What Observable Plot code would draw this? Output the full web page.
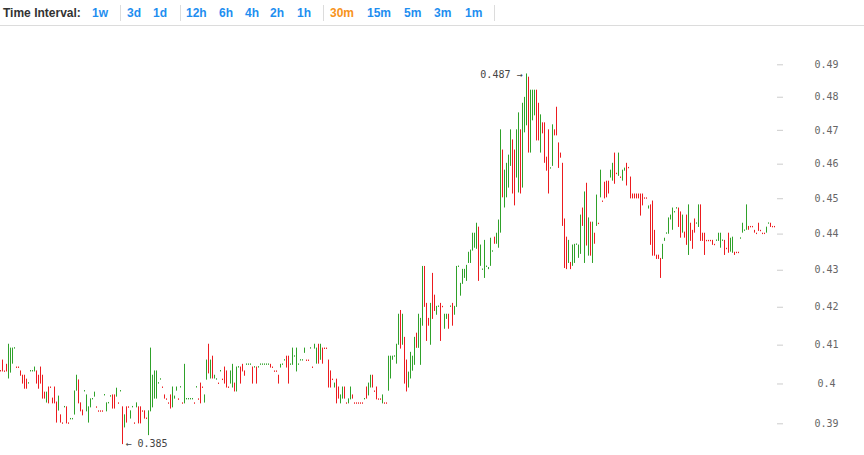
<!DOCTYPE html>
<html>
<head>
<meta charset="utf-8">
<script src="https://cdn.jsdelivr.net/npm/d3@7"></script>
<script src="https://cdn.jsdelivr.net/npm/@observablehq/plot@0.6"></script>
<style>
  html, body { margin: 0; padding: 0; background: #fff; }
  #hdr { position: relative; height: 25px; border-bottom: 1px solid #dcdcdc; font-family: "Liberation Sans", Arial, sans-serif; font-weight: bold; font-size: 12px; }
  #hdr span { position: absolute; top: 6px; white-space: nowrap; }
  #hdr .lbl { color: #333; }
  #hdr .lnk { color: #1e8ef0; }
  #hdr .cur { color: #f7931a; }
  #hdr .sep { position: absolute; top: 5px; width: 1px; height: 16px; background: #dcdcdc; }
  #chart svg { display: block; }
</style>
</head>
<body>
<div id="hdr"></div>
<div id="chart"></div>
<script>
// Header (time interval selector)
const intervalGroups = [["1w"], ["3d", "1d"], ["12h", "6h", "4h", "2h", "1h"], ["30m", "15m", "5m", "3m", "1m"]];
const activeInterval = "30m";

// Price axis ticks
const yTicks = [0.39, 0.40, 0.41, 0.42, 0.43, 0.44, 0.45, 0.46, 0.47, 0.48, 0.49];

// 30-minute candles: open and close prices (oldest first)
const opens = [
  .4033,.4060,.4032,.4049,.4014,.4029,.4052,.4091,.4042,.4042,
  .4032,.4021,.4021,.4011,.4001,.4032,.4032,.4032,.4032,.4021,
  .4042,.4021,.3978,.3953,.3991,.3991,.3963,.3991,.3953,.3933,
  .3921,.3901,.3941,.3941,.3901,.3911,.3911,.3923,.3983,.4009,
  .3951,.3933,.3981,.3931,.3903,.3941,.3961,.3968,.3941,.3931,
  .3931,.3931,.3971,.3931,.3951,.3968,.3971,.3971,.3968,.3951,
  .3981,.3941,.3891,.3941,.3941,.3913,.3941,.3901,.3941,.3941,
  .3941,.3931,.3931,.3913,.3872,.3931,.3941,.3963,.3963,.4001,
  .4011,.3991,.3971,.3961,.3951,.3971,.3941,.3963,.3983,.3961,
  .3991,.3951,.3951,.3961,.3961,.3961,.3961,.3951,.3991,.3961,
  .4001,.3991,.3953,.4011,.4101,.4014,.4070,.4014,.4011,.4001,
  .4032,.4011,.4042,.4032,.3991,.4001,.3991,.4001,.3981,.4042,
  .4042,.4049,.4032,.4049,.4049,.4049,.4042,.4042,.4042,.4042,
  .4049,.4049,.4049,.4049,.4049,.4049,.4042,.4032,.4032,.4021,
  .4042,.4049,.4060,.4070,.4070,.4049,.4049,.4070,.4032,.4049,
  .4060,.4060,.4080,.4060,.4060,.4091,.4042,.4091,.4052,.4101,
  .4062,.4091,.4091,.4091,.4060,.4032,.4011,.3991,.4011,.3991,
  .3951,.3963,.3991,.3951,.3951,.3961,.3971,.3951,.3951,.3951,
  .3951,.3951,.3961,.3991,.3971,.3991,.4021,.3981,.3991,.3961,
  .3961,.3951,.3951,.3951,.3983,.4014,.4062,.4070,.4052,.4101,
  .4190,.4101,.4119,.4060,.3991,.4014,.4034,.4049,.4130,.4093,
  .4049,.4151,.4309,.4209,.4169,.4101,.4290,.4231,.4180,.4201,
  .4209,.4201,.4143,.4169,.4180,.4201,.4209,.4180,.4201,.4309,
  .4231,.4263,.4279,.4271,.4320,.4320,.4354,.4362,.4359,.4418,
  .4312,.4301,.4279,.4309,.4303,.4312,.4351,.4390,.4373,.4362,
  .4404,.4640,.4475,.4504,.4532,.4595,.4670,.4640,.4561,.4518,
  .4700,.4532,.4694,.4715,.4860,.4634,.4730,.4745,.4820,.4780,
  .4634,.4721,.4721,.4619,.4700,.4587,.4595,.4700,.4768,.4661,
  .4631,.4601,.4441,.4390,.4320,.4320,.4312,.4320,.4370,.4334,
  .4345,.4472,.4320,.4543,.4340,.4432,.4320,.4401,.4423,.4429,
  .4504,.4492,.4546,.4549,.4549,.4561,.4552,.4631,.4572,.4566,
  .4561,.4552,.4581,.4601,.4589,.4561,.4512,.4512,.4512,.4512,
  .4512,.4512,.4501,.4501,.4472,.4481,.4492,.4409,.4340,.4340,
  .4331,.4331,.4381,.4401,.4401,.4441,.4412,.4461,.4472,.4472,
  .4461,.4404,.4404,.4452,.4342,.4429,.4409,.4441,.4429,.4420,
  .4481,.4401,.4401,.4381,.4381,.4381,.4381,.4370,.4381,.4381,
  .4362,.4381,.4381,.4359,.4401,.4351,.4348,.4348,.4348,.4348,
  .4387,.4404,.4409,.4412,.4420,.4420,.4420,.4409,.4401,.4429,
  .4409,.4401,.4401,.4404,.4429,.4429,.4420,.4420
];
const closes = [
  .4032,.4032,.4031,.4032,.4101,.4091,.4091,.4092,.4041,.4041,
  .4021,.4001,.3988,.3988,.4002,.4033,.4033,.4042,.4001,.3988,
  .4001,.3963,.3963,.3978,.3951,.3990,.3951,.3951,.3903,.3968,
  .3903,.3900,.3942,.3901,.3900,.3912,.3912,.3981,.4021,.3951,
  .3931,.3921,.3982,.3971,.3941,.3961,.3962,.3978,.3940,.3930,
  .3930,.3930,.3972,.3951,.3952,.3969,.3938,.3938,.3988,.3950,
  .3982,.3850,.3921,.3903,.3940,.3931,.3942,.3900,.3951,.3901,
  .3901,.3930,.3913,.3912,.3931,.4091,.4021,.4032,.4032,.4002,
  .4012,.3990,.3963,.3960,.3950,.3938,.3991,.3968,.3991,.3960,
  .3992,.3950,.4049,.3962,.3962,.3962,.3962,.3950,.3992,.3960,
  .3951,.3990,.3971,.4060,.4027,.4060,.4014,.4021,.4012,.4000,
  .4033,.4010,.4001,.3991,.3990,.4032,.4049,.3981,.4042,.4043,
  .4001,.4032,.4021,.4050,.4050,.4050,.4001,.4043,.4001,.4043,
  .4050,.4050,.4050,.4050,.4050,.4042,.4041,.4031,.4031,.4001,
  .4049,.4050,.4061,.4042,.4001,.4050,.4091,.4071,.4091,.4050,
  .4061,.4061,.4091,.4059,.4059,.4092,.4041,.4101,.4091,.4052,
  .4101,.4052,.4090,.4090,.3991,.3991,.4010,.4001,.3951,.3963,
  .3971,.3991,.3963,.3950,.3961,.3991,.3963,.3950,.3950,.3950,
  .3950,.3950,.3962,.3963,.4001,.4021,.3991,.3980,.3961,.3960,
  .3960,.3971,.3950,.3950,.4070,.4070,.4070,.4071,.4101,.4180,
  .4091,.4180,.4001,.3981,.4029,.4080,.4070,.4119,.4093,.4180,
  .4169,.4309,.4201,.4111,.4151,.4209,.4169,.4190,.4201,.4202,
  .4111,.4200,.4180,.4180,.4143,.4202,.4151,.4201,.4309,.4310,
  .4263,.4301,.4301,.4312,.4348,.4354,.4401,.4401,.4429,.4271,
  .4368,.4302,.4381,.4310,.4306,.4387,.4352,.4373,.4401,.4438,
  .4700,.4504,.4581,.4601,.4625,.4700,.4515,.4481,.4700,.4751,
  .4515,.4780,.4798,.4870,.4634,.4820,.4820,.4820,.4670,.4670,
  .4745,.4691,.4604,.4581,.4515,.4588,.4715,.4685,.4685,.4589,
  .4619,.4423,.4306,.4303,.4381,.4303,.4368,.4370,.4371,.4368,
  .4452,.4423,.4518,.4368,.4444,.4340,.4432,.4373,.4509,.4428,
  .4581,.4491,.4501,.4504,.4515,.4581,.4601,.4543,.4571,.4631,
  .4560,.4581,.4587,.4538,.4588,.4501,.4501,.4501,.4501,.4501,
  .4452,.4481,.4500,.4500,.4478,.4370,.4340,.4340,.4331,.4331,
  .4279,.4370,.4387,.4402,.4444,.4452,.4472,.4462,.4473,.4420,
  .4390,.4452,.4390,.4370,.4481,.4381,.4359,.4404,.4430,.4481,
  .4381,.4381,.4342,.4380,.4380,.4380,.4370,.4369,.4382,.4401,
  .4401,.4382,.4342,.4358,.4348,.4387,.4390,.4342,.4347,.4347,
  .4388,.4429,.4410,.4481,.4412,.4419,.4419,.4404,.4400,.4409,
  .4408,.4400,.4400,.4418,.4430,.4420,.4419,.4419
];

const UP = "#2fa12a", DOWN = "#ec1b1f";

// ---- header ----
const hdr = document.getElementById("hdr");
function addSpan(text, cls, left) {
  const s = document.createElement("span");
  s.className = cls; s.textContent = text; s.style.left = left + "px";
  hdr.appendChild(s);
}
function addSep(left) {
  const s = document.createElement("div");
  s.className = "sep"; s.style.left = left + "px";
  hdr.appendChild(s);
}
addSpan("Time Interval:", "lbl", 3);
const itemLefts = [[92], [127, 153], [186, 219, 245, 270, 297], [330, 367, 404, 434, 465]];
const sepLefts = [120, 180, 323, 494];
intervalGroups.forEach((g, gi) => {
  g.forEach((t, ti) => addSpan(t, t === activeInterval ? "cur" : "lnk", itemLefts[gi][ti]));
  addSep(sepLefts[gi]);
});

// ---- chart ----
const candles = opens.map((o, i) => ({i, o, c: closes[i]}));
const N = candles.length;
const hi = d3.maxIndex(candles, d => Math.max(d.o, d.c));
const lo = d3.minIndex(candles, d => Math.min(d.o, d.c));
const hiVal = Math.max(candles[hi].o, candles[hi].c);
const loVal = Math.min(candles[lo].o, candles[lo].c);
const fmt = d => String(+d.toFixed(2));

const chart = Plot.plot({
  width: 864,
  height: 429,
  marginLeft: 0, marginTop: 0, marginBottom: 0, marginRight: 88,
  x: {type: "linear", domain: [0, N - 1], range: [0, 2 * (N - 1)], axis: null},
  y: {type: "log", domain: [0.39, 0.49], range: [397.3, 38.3], label: null, axis: null},
  marks: [
    Plot.ruleX(candles, {
      x: "i", y1: "o", y2: "c",
      stroke: d => d.c >= d.o ? UP : DOWN,
      strokeWidth: 1, strokeLinecap: "square"
    }),
    Plot.axisY(yTicks, {
      anchor: "right", tickSize: 6, tickPadding: 44, textAnchor: "middle",
      tickFormat: fmt, stroke: "#cccccc", fill: "#666666",
      fontSize: 10, fontFamily: "DejaVu Sans Mono, monospace", label: null
    }),
    Plot.text([{i: hi, v: hiVal}], {
      x: "i", y: "v", text: d => d.v.toFixed(3) + " \u2192",
      textAnchor: "end", dx: -4, fontSize: 10,
      fontFamily: "DejaVu Sans Mono, monospace", fill: "#444"
    }),
    Plot.text([{i: lo, v: loVal}], {
      x: "i", y: "v", text: d => "\u2190 " + d.v.toFixed(3),
      textAnchor: "start", dx: 3, fontSize: 10,
      fontFamily: "DejaVu Sans Mono, monospace", fill: "#444"
    })
  ]
});
document.getElementById("chart").appendChild(chart);
</script>
</body>
</html>
